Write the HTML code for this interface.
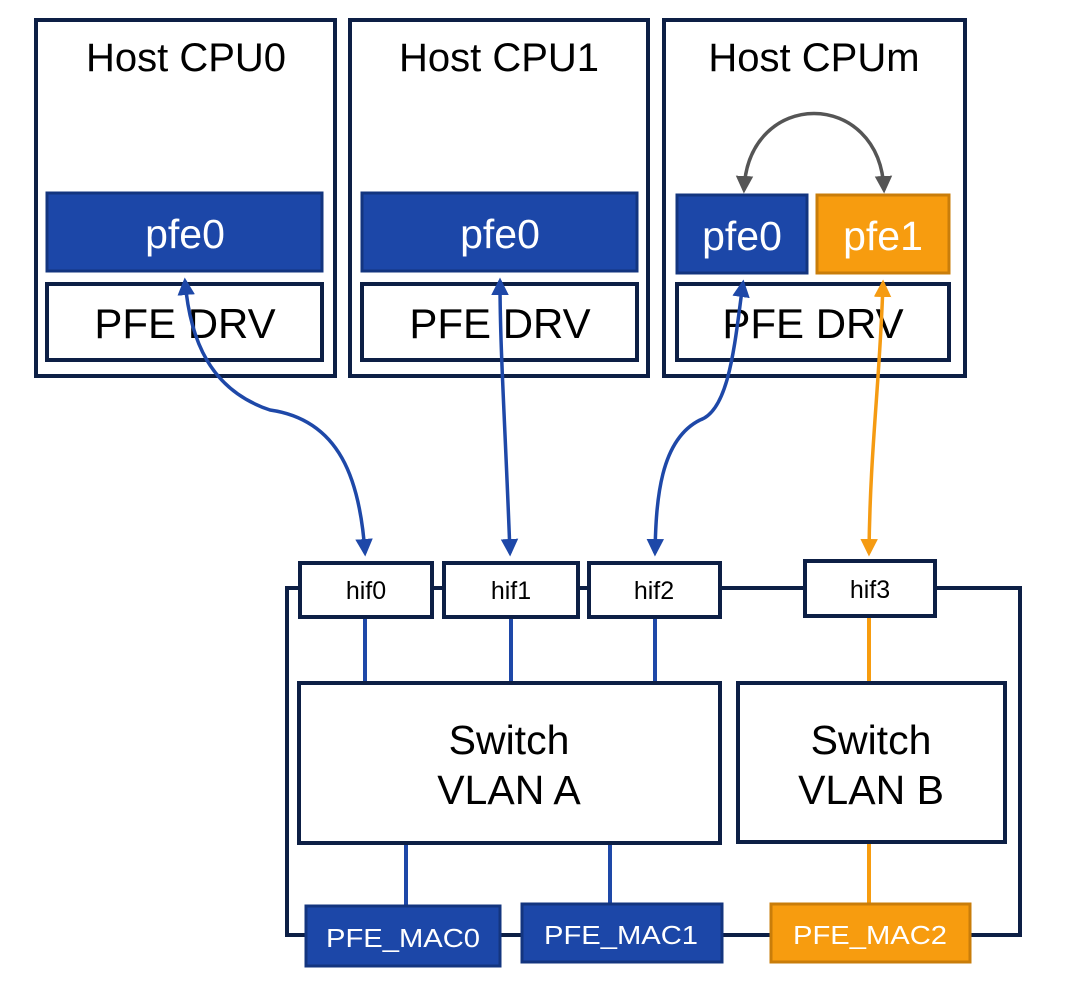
<!DOCTYPE html>
<html><head><style>html,body{margin:0;padding:0;background:#fff}svg{display:block}</style></head>
<body>
<svg width="1080" height="995" viewBox="0 0 1080 995" xmlns="http://www.w3.org/2000/svg" font-family="Liberation Sans, sans-serif">
<defs>
<marker id="ab" markerWidth="6" markerHeight="6" refX="4" refY="3" orient="auto-start-reverse" markerUnits="strokeWidth"><path d="M0,0.5 L5,3 L0,5.5 Z" fill="#1e48a8"/></marker>
<marker id="ao" markerWidth="6" markerHeight="6" refX="4" refY="3" orient="auto-start-reverse" markerUnits="strokeWidth"><path d="M0,0.5 L5,3 L0,5.5 Z" fill="#f59b12"/></marker>
<marker id="ag" markerWidth="6" markerHeight="6" refX="4" refY="3" orient="auto-start-reverse" markerUnits="strokeWidth"><path d="M0,0.5 L5,3 L0,5.5 Z" fill="#555"/></marker>
</defs>
<g fill="none" stroke="#0d1f45" stroke-width="4">
<rect x="36" y="20" width="299" height="356"/>
<rect x="350" y="20" width="298" height="356"/>
<rect x="664" y="20" width="301" height="356"/>
<rect x="47" y="284" width="275" height="76"/>
<rect x="362" y="284" width="275" height="76"/>
<rect x="677" y="284" width="272" height="76"/>
</g>
<g fill="#1c47a8" stroke="#13357f" stroke-width="3">
<rect x="47" y="193" width="275" height="78"/>
<rect x="362" y="193" width="275" height="78"/>
<rect x="677" y="195" width="130" height="78"/>
</g>
<rect x="817" y="195" width="132" height="78" fill="#f79c0f" stroke="#c97d0a" stroke-width="3"/>
<g font-size="40" text-anchor="middle" fill="#000">
<text x="186" y="71">Host CPU0</text>
<text x="499" y="71">Host CPU1</text>
<text x="814" y="71">Host CPUm</text>
</g>
<g font-size="42" text-anchor="middle" fill="#000">
<text x="185" y="338">PFE DRV</text>
<text x="500" y="338">PFE DRV</text>
<text x="813" y="338">PFE DRV</text>
</g>
<g font-size="41" text-anchor="middle" fill="#fff">
<text x="185" y="248">pfe0</text>
<text x="500" y="248">pfe0</text>
<text x="742" y="250">pfe0</text>
<text x="883" y="250">pfe1</text>
</g>
<g stroke="#0d1f45" stroke-width="4" fill="none">
<polyline points="300,588 287,588 287,935 305,935"/>
<polyline points="935,588 1020,588 1020,935 970,935"/>
<line x1="432" y1="588" x2="444" y2="588"/>
<line x1="578" y1="588" x2="588" y2="588"/>
<line x1="720" y1="588" x2="805" y2="588"/>
<line x1="500" y1="935" x2="521" y2="935"/>
<line x1="722" y1="935" x2="770" y2="935"/>
</g>
<g stroke="#1e48a8" stroke-width="4">
<line x1="365" y1="617" x2="365" y2="682"/>
<line x1="511" y1="617" x2="511" y2="682"/>
<line x1="655" y1="617" x2="655" y2="682"/>
<line x1="406" y1="843" x2="406" y2="905"/>
<line x1="610" y1="843" x2="610" y2="903"/>
</g>
<g stroke="#f79c0f" stroke-width="4">
<line x1="869" y1="617" x2="869" y2="682"/>
<line x1="869" y1="843" x2="869" y2="903"/>
</g>
<g fill="#fff" stroke="#0d1f45" stroke-width="4">
<rect x="300" y="563" width="132" height="54"/>
<rect x="444" y="563" width="134" height="54"/>
<rect x="589" y="563" width="131" height="54"/>
<rect x="805" y="561" width="130" height="55"/>
<rect x="299" y="683" width="421" height="160"/>
<rect x="738" y="683" width="267" height="159"/>
</g>
<g fill="#1c47a8" stroke="#13357f" stroke-width="3">
<rect x="306" y="906" width="194" height="60"/>
<rect x="522" y="904" width="200" height="58"/>
</g>
<rect x="771" y="904" width="199" height="58" fill="#f79c0f" stroke="#c97d0a" stroke-width="3"/>
<g font-size="25" text-anchor="middle" fill="#000">
<text x="366" y="599">hif0</text>
<text x="511" y="599">hif1</text>
<text x="654" y="599">hif2</text>
<text x="870" y="598">hif3</text>
</g>
<g font-size="41" text-anchor="middle" fill="#000">
<text x="509" y="754">Switch</text>
<text x="509" y="804">VLAN A</text>
<text x="871" y="754">Switch</text>
<text x="871" y="804">VLAN B</text>
</g>
<g font-size="26" text-anchor="middle" fill="#fff">
<text x="403" y="947" textLength="154" lengthAdjust="spacingAndGlyphs">PFE_MAC0</text>
<text x="621" y="944" textLength="154" lengthAdjust="spacingAndGlyphs">PFE_MAC1</text>
<text x="870" y="944" textLength="154" lengthAdjust="spacingAndGlyphs">PFE_MAC2</text>
</g>
<g fill="none" stroke-width="3.5">
<path d="M185,281 C190,340 210,390 270,410 C340,420 360,480 365,553" stroke="#1e48a8" marker-start="url(#ab)" marker-end="url(#ab)"/>
<path d="M500,281 C500,350 505,420 510,553" stroke="#1e48a8" marker-start="url(#ab)" marker-end="url(#ab)"/>
<path d="M743,283 C735,340 730,410 700,420 C660,440 656,500 655,553" stroke="#1e48a8" marker-start="url(#ab)" marker-end="url(#ab)"/>
<path d="M883,283 C880,380 870,450 869,553" stroke="#f59b12" marker-start="url(#ao)" marker-end="url(#ao)"/>
<path d="M744,190 C748,88 880,88 884,190" stroke="#555" marker-start="url(#ag)" marker-end="url(#ag)"/>
</g>
</svg>
</body></html>
